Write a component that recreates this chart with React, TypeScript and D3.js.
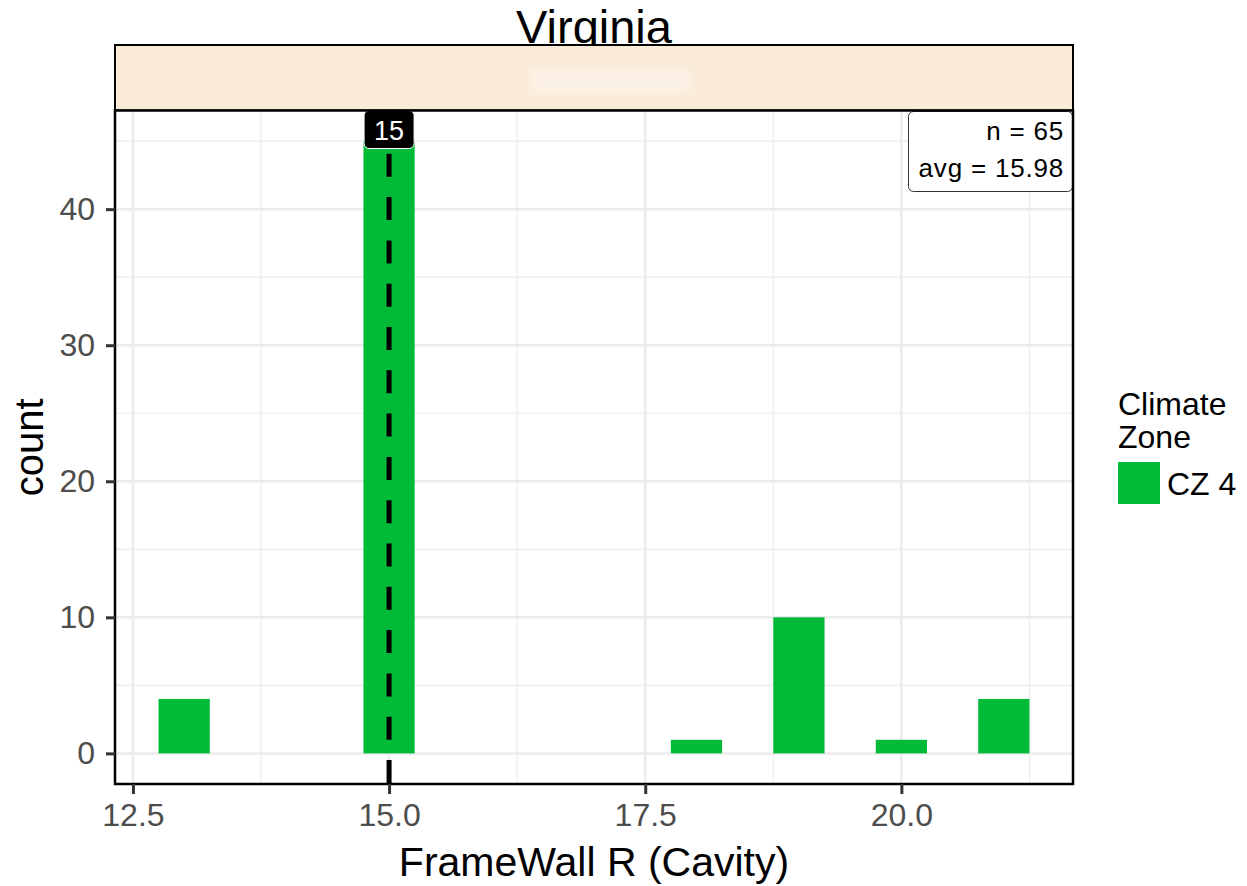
import React, { useEffect, useRef } from "react";
import * as d3 from "d3";

// histogram bins (bin centre, width 0.5) and counts
const binCenters = [13, 15, 18, 19, 20, 21];
const binCounts = [4, 45, 1, 10, 1, 4];
const xTicks = [12.5, 15.0, 17.5, 20.0];
const xMinor = [13.75, 16.25, 18.75, 21.25];
const yTicks = [0, 10, 20, 30, 40];
const yMinor = [5, 15, 25, 35, 45];
const medianValue = 15;
const statLines = ["n = 65", "avg = 15.98"];
const legendItems = ["CZ 4"];

const GREEN = "#00BA38";

const App = () => {
  const ref = useRef<SVGSVGElement>(null);

  useEffect(() => {
    const width = 1247, height = 886;
    const svg = d3.select(ref.current).attr("width", width).attr("height", height);
    svg.selectAll("*").remove();

    const left = 115, right = 1073, top = 110.5, bottom = 784;
    const binW = 0.5;

    const x = d3.scaleLinear().domain([12.325, 21.675]).range([left, right]);
    const y = d3.scaleLinear().domain([-2.25, 47.25]).range([bottom, top]);
    const font = "'Liberation Sans', Arial, sans-serif";

    // title
    svg.append("text")
      .attr("x", (left + right) / 2).attr("y", 43)
      .attr("text-anchor", "middle")
      .attr("font-family", font).attr("font-size", 47).attr("fill", "#000")
      .text("Virginia");

    // strip
    svg.append("rect")
      .attr("x", left).attr("y", 45).attr("width", right - left).attr("height", top - 45)
      .attr("fill", "#FAEBD7").attr("stroke", "#000").attr("stroke-width", 2);
    const defs = svg.append("defs");
    defs.append("filter").attr("id", "blur").append("feGaussianBlur").attr("stdDeviation", 4);
    svg.append("rect")
      .attr("x", 530).attr("y", 68).attr("width", 160).attr("height", 26)
      .attr("fill", "#FCF1E5").attr("filter", "url(#blur)");

    // panel background + grid
    svg.append("rect")
      .attr("x", left).attr("y", top).attr("width", right - left).attr("height", bottom - top)
      .attr("fill", "#fff");

    const grid = svg.append("g");
    grid.selectAll(".ymin").data(yMinor).enter().append("line")
      .attr("x1", left).attr("x2", right).attr("y1", d => y(d)).attr("y2", d => y(d))
      .attr("stroke", "#EBEBEB").attr("stroke-width", 1.2);
    grid.selectAll(".xmin").data(xMinor).enter().append("line")
      .attr("y1", top).attr("y2", bottom).attr("x1", d => x(d)).attr("x2", d => x(d))
      .attr("stroke", "#EBEBEB").attr("stroke-width", 1.2);
    grid.selectAll(".ymaj").data(yTicks).enter().append("line")
      .attr("x1", left).attr("x2", right).attr("y1", d => y(d)).attr("y2", d => y(d))
      .attr("stroke", "#EBEBEB").attr("stroke-width", 2.5);
    grid.selectAll(".xmaj").data(xTicks).enter().append("line")
      .attr("y1", top).attr("y2", bottom).attr("x1", d => x(d)).attr("x2", d => x(d))
      .attr("stroke", "#EBEBEB").attr("stroke-width", 2.5);

    // bars
    svg.selectAll(".bar").data(binCenters).enter().append("rect")
      .attr("x", d => x(d - binW / 2))
      .attr("width", d => x(d + binW / 2) - x(d - binW / 2))
      .attr("y", (d, i) => y(binCounts[i]))
      .attr("height", (d, i) => y(0) - y(binCounts[i]))
      .attr("fill", GREEN);

    // median dashed line
    svg.append("line")
      .attr("x1", x(medianValue)).attr("x2", x(medianValue))
      .attr("y1", top).attr("y2", bottom)
      .attr("stroke", "#000").attr("stroke-width", 5)
      .attr("stroke-dasharray", "23,20.3");

    // median label
    const lab = svg.append("g").attr("transform", `translate(${x(medianValue)},129.5)`);
    lab.append("rect")
      .attr("x", -25).attr("y", -19).attr("width", 50).attr("height", 38).attr("rx", 5)
      .attr("fill", "#000").attr("stroke", "#fff").attr("stroke-width", 1);
    lab.append("text")
      .attr("text-anchor", "middle").attr("y", 10)
      .attr("font-family", font).attr("font-size", 27).attr("fill", "#fff")
      .text(String(medianValue));

    // stats box
    svg.append("rect")
      .attr("x", 908.5).attr("y", 111.5).attr("width", 164).attr("height", 80).attr("rx", 5)
      .attr("fill", "#fff").attr("stroke", "#333").attr("stroke-width", 1);
    svg.selectAll(".stat").data(statLines).enter().append("text")
      .attr("x", 1064).attr("y", (d, i) => 140 + i * 37)
      .attr("text-anchor", "end")
      .attr("font-family", font).attr("font-size", 26).attr("letter-spacing", 0.8).attr("fill", "#000")
      .text(d => d);

    // panel border
    svg.append("rect")
      .attr("x", left).attr("y", top).attr("width", right - left).attr("height", bottom - top)
      .attr("fill", "none").attr("stroke", "#000").attr("stroke-width", 2.5);

    // axes
    const yAxis = svg.append("g").attr("transform", `translate(${left},0)`)
      .call(d3.axisLeft(y).tickValues(yTicks).tickSize(9).tickPadding(11).tickFormat(d3.format("d")));
    yAxis.select(".domain").remove();
    yAxis.selectAll("line").attr("stroke", "#333").attr("stroke-width", 3);
    yAxis.selectAll("text").attr("font-family", font).attr("font-size", 32).attr("fill", "#4D4D4D");

    const xAxis = svg.append("g").attr("transform", `translate(0,${bottom})`)
      .call(d3.axisBottom(x).tickValues(xTicks).tickSize(10).tickPadding(9).tickFormat(d3.format(".1f")));
    xAxis.select(".domain").remove();
    xAxis.selectAll("line").attr("stroke", "#333").attr("stroke-width", 3);
    xAxis.selectAll("text").attr("font-family", font).attr("font-size", 32).attr("fill", "#4D4D4D");

    // axis titles
    svg.append("text")
      .attr("x", (left + right) / 2).attr("y", 876)
      .attr("text-anchor", "middle")
      .attr("font-family", font).attr("font-size", 41).attr("fill", "#000")
      .text("FrameWall R (Cavity)");
    svg.append("text")
      .attr("transform", `translate(43,${(top + bottom) / 2}) rotate(-90)`)
      .attr("text-anchor", "middle")
      .attr("font-family", font).attr("font-size", 40).attr("fill", "#000")
      .text("count");

    // legend
    const lg = svg.append("g").attr("transform", "translate(1118,0)");
    lg.append("text").attr("x", 0).attr("y", 415)
      .attr("font-family", font).attr("font-size", 32).attr("fill", "#000").text("Climate");
    lg.append("text").attr("x", 0).attr("y", 448)
      .attr("font-family", font).attr("font-size", 32).attr("fill", "#000").text("Zone");
    legendItems.forEach((name, i) => {
      lg.append("rect").attr("x", 0).attr("y", 462 + i * 42).attr("width", 42).attr("height", 42)
        .attr("fill", GREEN);
      lg.append("text").attr("x", 49).attr("y", 495 + i * 42)
        .attr("font-family", font).attr("font-size", 32).attr("fill", "#000").text(name);
    });
  }, []);

  return (
    <svg ref={ref} style={{ position: "absolute", left: 0, top: 0, display: "block" }}></svg>
  );
};

export default App;
